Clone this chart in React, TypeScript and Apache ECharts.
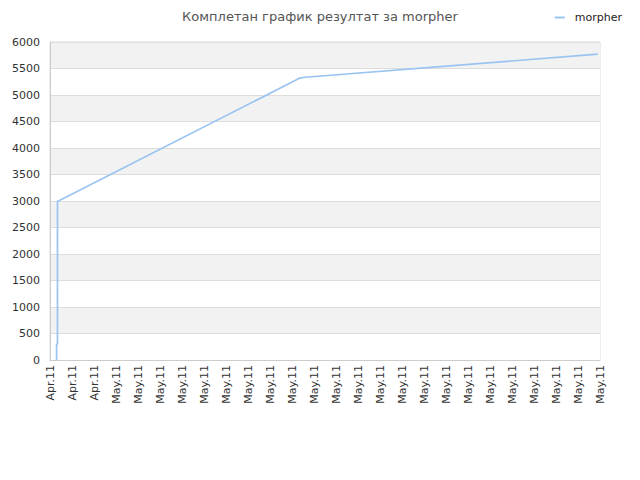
import * as echarts from "echarts";
import { useEffect, useRef } from "react";

// x-axis tick labels (one per tick, 26 ticks)
const tickLabels = [
  "Apr.11", "Apr.11", "Apr.11",
  "May.11", "May.11", "May.11", "May.11", "May.11", "May.11", "May.11",
  "May.11", "May.11", "May.11", "May.11", "May.11", "May.11", "May.11",
  "May.11", "May.11", "May.11", "May.11", "May.11", "May.11", "May.11",
  "May.11", "May.11",
];

// series "morpher": position along the x axis (in tick units) and score
const positions = [0.3, 0.3, 0.34, 0.34, 11.36, 11.6, 24.9];
const values = [0, 300, 300, 2990, 5320, 5335, 5770];

const App = () => {
  const chartRef = useRef(null);

  useEffect(() => {
    const chart = echarts.init(chartRef.current, null, { renderer: "svg" });
    const font = "DejaVu Sans, Verdana, sans-serif";
    chart.setOption({
      animation: false,
      title: {
        text: "Комплетан график резултат за morpher",
        left: "center",
        top: 5,
        textStyle: { fontFamily: font, fontSize: 13, fontWeight: "normal", color: "#555" },
      },
      legend: {
        right: 13,
        top: 7,
        icon: "rect",
        itemWidth: 10,
        itemHeight: 2,
        itemGap: 8,
        textStyle: { fontFamily: font, fontSize: 11, color: "#222", padding: [0, 0, 0, 5] },
        data: ["morpher"],
      },
      grid: {
        left: 50,
        right: 40,
        top: 42,
        bottom: 120,
        show: true,
        borderColor: "#ddd",
        borderWidth: 1,
        backgroundColor: "transparent",
      },
      xAxis: {
        type: "value",
        min: 0,
        max: tickLabels.length - 1,
        interval: 1,
        axisLine: { show: true, lineStyle: { color: "#ccc" } },
        axisTick: { show: false },
        splitLine: { show: false },
        axisLabel: {
          rotate: 90,
          margin: 5,
          fontFamily: font,
          fontSize: 11,
          color: "#333",
          showMinLabel: true,
          showMaxLabel: true,
          formatter: (v: number) => tickLabels[Math.round(v)] ?? "",
        },
      },
      yAxis: {
        type: "value",
        min: 0,
        max: 6000,
        interval: 500,
        axisLine: { show: true, lineStyle: { color: "#ccc" } },
        axisTick: { show: false },
        axisLabel: {
          fontFamily: font,
          fontSize: 11,
          color: "#333",
          margin: 10,
          formatter: (v: number) => String(v),
        },
        splitLine: { show: true, lineStyle: { color: "#ddd" } },
        splitArea: { show: true, areaStyle: { color: ["#ffffff", "#f2f2f2"] } },
      },
      series: [
        {
          name: "morpher",
          type: "line",
          showSymbol: false,
          symbol: "none",
          color: "#99c4f2",
          lineStyle: { width: 1.7, color: "#99c4f2" },
          data: positions.map((p, i) => [p, values[i]]),
        },
      ],
    });
    return () => {
      chart.dispose();
    };
  }, []);

  return (
    <div
      ref={chartRef}
      style={{ position: "absolute", left: 0, top: 0, width: 640, height: 480 }}
    />
  );
};

export default App;
